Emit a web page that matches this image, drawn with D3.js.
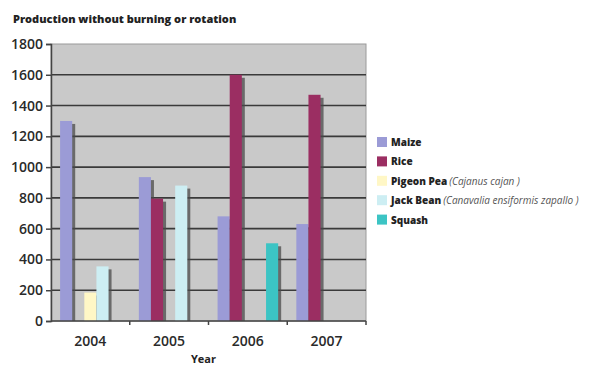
<!DOCTYPE html>
<html><head><meta charset="utf-8">
<script src="https://cdn.jsdelivr.net/npm/d3@7"></script>
<style>body{margin:0;background:#fff}svg{display:block}</style>
</head><body>
<script>
const years = ["2004","2005","2006","2007"];
const seriesNames = ["Maize","Rice","Pigeon Pea","Jack Bean","Squash"];
const seriesLatin = ["","","(Cajanus cajan )","(Canavalia ensiformis zapallo )",""];
const seriesColors = ["#9b9bd6","#9b2e62","#fff7c6","#cdeef3","#3cc4c4"];
const maize = [1300, 935, 680, 630];
const rice = [null, 795, 1600, 1470];
const pigeonPea = [185, null, null, null];
const jackBean = [355, 880, null, null];
const squash = [null, null, 505, null];
const yTicks = [0,200,400,600,800,1000,1200,1400,1600,1800];
const title = "Production without burning or rotation";
const xTitle = "Year";

const values = [maize, rice, pigeonPea, jackBean, squash];
const W = 590, H = 365;
const m = {left:51, right:224, top:44, bottom:44};
const svg = d3.select("body").append("svg").attr("width",W).attr("height",H);

const x = d3.scaleBand().domain(years).range([m.left, W-m.right]).paddingInner(0).paddingOuter(0);
const inner = d3.scaleBand().domain(d3.range(5)).range([0, x.bandwidth()]).paddingOuter(0.75).paddingInner(0);
const y = d3.scaleLinear().domain([0,1800]).range([H-m.bottom, m.top]);

svg.append("rect").attr("x",m.left).attr("y",m.top).attr("width",W-m.right-m.left).attr("height",H-m.bottom-m.top)
  .attr("fill","#c9c9c9").attr("stroke","#9a9a9a").attr("stroke-width",1);

svg.append("g").selectAll("line").data(yTicks.filter(d=>d>0 && d<1800)).join("line")
  .attr("x1",m.left).attr("x2",W-m.right).attr("y1",d=>y(d)).attr("y2",d=>y(d))
  .attr("stroke","#3a3a3a").attr("stroke-width",1.6);

const flat = [];
values.forEach((arr,si)=>arr.forEach((v,yi)=>{ if(v!=null) flat.push({si,yi,v}); }));
const gb = svg.append("g");
gb.selectAll("rect.sh").data(flat).join("rect").attr("class","sh")
  .attr("x",d=>x(years[d.yi])+inner(d.si)+3).attr("y",d=>y(d.v)+3)
  .attr("width",inner.bandwidth()).attr("height",d=>y(0)-y(d.v)-3)
  .attr("fill","#4a4a4a").attr("opacity",0.75);
gb.selectAll("rect.bar").data(flat).join("rect").attr("class","bar")
  .attr("x",d=>x(years[d.yi])+inner(d.si)).attr("y",d=>y(d.v))
  .attr("width",inner.bandwidth()).attr("height",d=>y(0)-y(d.v))
  .attr("fill",d=>seriesColors[d.si]);

const yAxis = d3.axisLeft(y).tickValues(yTicks).tickFormat(d3.format("d")).tickSize(5).tickPadding(3);
const gy = svg.append("g").attr("transform",`translate(${m.left},0)`).call(yAxis);
gy.select(".domain").attr("stroke","#444").attr("stroke-width",1.5);
gy.selectAll(".tick line").attr("stroke","#444").attr("stroke-width",1.5);
gy.selectAll("text").attr("font-family","Open Sans").attr("font-size",14).attr("font-weight",600).attr("fill","#2a2a2a");

const gx = svg.append("g").attr("transform",`translate(0,${H-m.bottom})`);
gx.append("line").attr("x1",m.left).attr("x2",W-m.right).attr("stroke","#444").attr("stroke-width",1.5);
gx.selectAll("line.t").data(years).join("line").attr("class","t")
  .attr("x1",d=>x(d)+x.bandwidth()).attr("x2",d=>x(d)+x.bandwidth()).attr("y1",0).attr("y2",4)
  .attr("stroke","#444").attr("stroke-width",1.5);
gx.selectAll("text").data(years).join("text")
  .attr("x",d=>x(d)+x.bandwidth()/2).attr("y",25).attr("text-anchor","middle")
  .attr("font-family","Open Sans").attr("font-size",14).attr("font-weight",600).attr("fill","#2a2a2a").text(d=>d);

svg.append("text").attr("x",(m.left+W-m.right)/2-5).attr("y",H-2).attr("text-anchor","middle")
  .attr("font-family","Open Sans").attr("font-size",11).attr("font-weight",700).attr("fill","#222").text(xTitle);

svg.append("text").attr("x",13).attr("y",23)
  .attr("font-family","Open Sans").attr("font-size",11).attr("font-weight",800).attr("fill","#222").text(title);

const lg = svg.append("g").attr("transform","translate(377,137)");
seriesNames.forEach((n,i)=>{
  const g = lg.append("g").attr("transform",`translate(0,${i*19.4})`);
  g.append("rect").attr("width",10).attr("height",10).attr("fill",seriesColors[i]);
  const t = g.append("text").attr("x",14).attr("y",9).attr("font-family","Open Sans").attr("font-size",10).attr("fill","#222");
  t.append("tspan").attr("font-weight",800).text(n);
  if(seriesLatin[i]) t.append("tspan").attr("font-style","italic").attr("fill","#555").attr("dx",2).text(seriesLatin[i]);
});
</script>
</body></html>
